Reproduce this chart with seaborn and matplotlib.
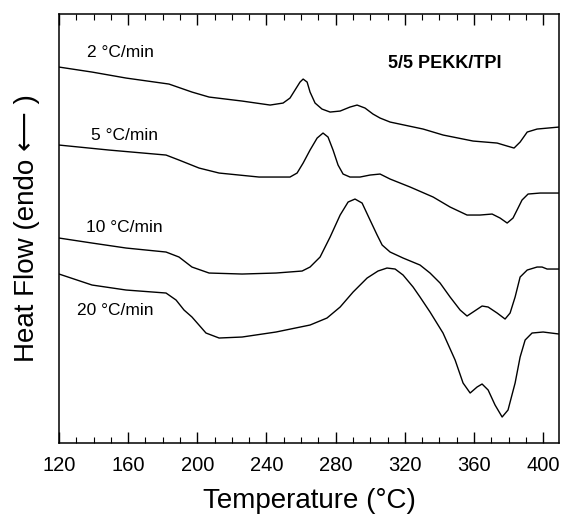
import pandas as pd
import numpy as np
import matplotlib.pyplot as plt
import seaborn as sns

# === DSC curves, 5/5 PEKK/TPI (heat flow in arbitrary units) ===
rates = ["2 °C/min", "5 °C/min", "10 °C/min", "20 °C/min"]

t_2 = [120, 139.1, 158.8, 183.6, 196.9, 206.8, 225.9, 242.1, 249.6, 253.6,
       256.5, 259.4, 261.2, 263.5, 265.2, 268.1, 272.1, 276.8, 282.6, 288.3,
       292.4, 297.0, 301.6, 305.7, 311.5, 330.6, 342.2, 359.5, 373.4, 379.2,
       383.2, 386.7, 390.8, 396.5, 409.2]
hf_2 = [3.76, 3.71, 3.65, 3.59, 3.51, 3.46, 3.42, 3.38, 3.40, 3.45,
        3.53, 3.61, 3.64, 3.61, 3.51, 3.40, 3.34, 3.31, 3.32, 3.36,
        3.38, 3.35, 3.29, 3.25, 3.21, 3.14, 3.08, 3.02, 3.00, 2.97,
        2.95, 3.01, 3.11, 3.14, 3.16]

t_5 = [120, 148.9, 181.9, 189.4, 201.0, 212.6, 235.7, 253.6, 257.7, 261.2,
       265.2, 269.3, 272.7, 275.6, 278.5, 281.4, 284.3, 288.3, 294.1, 299.9,
       305.7, 311.5, 323.1, 336.4, 346.2, 356.0, 363.5, 370.5, 375.1, 379.2,
       382.6, 385.5, 387.8, 391.3, 398.3, 409.2]
hf_5 = [2.98, 2.93, 2.88, 2.83, 2.75, 2.70, 2.66, 2.66, 2.70, 2.80,
        2.93, 3.05, 3.10, 3.06, 2.93, 2.78, 2.69, 2.66, 2.66, 2.68,
        2.69, 2.64, 2.56, 2.46, 2.36, 2.28, 2.28, 2.29, 2.25, 2.20,
        2.25, 2.35, 2.43, 2.49, 2.50, 2.50]

t_10 = [120, 139.1, 158.8, 181.9, 189.4, 196.9, 206.8, 225.9, 245.5, 260.6,
        265.2, 271.0, 276.8, 282.6, 287.2, 291.2, 295.3, 299.9, 304.0, 306.9,
        311.5, 319.0, 328.8, 334.6, 340.4, 346.2, 352.0, 356.0, 359.5, 364.7,
        368.2, 373.4, 378.0, 380.9, 383.8, 386.7, 390.8, 396.5, 399.4, 402.3,
        409.2]
hf_10 = [2.05, 2.00, 1.95, 1.91, 1.86, 1.76, 1.70, 1.69, 1.70, 1.72,
         1.76, 1.86, 2.06, 2.28, 2.41, 2.44, 2.40, 2.23, 2.08, 1.98,
         1.91, 1.85, 1.78, 1.70, 1.60, 1.46, 1.33, 1.27, 1.31, 1.37,
         1.36, 1.30, 1.24, 1.30, 1.46, 1.66, 1.73, 1.76, 1.76, 1.74,
         1.74]

t_20 = [120, 139.1, 158.8, 181.9, 187.7, 192.3, 196.9, 205.0, 212.6, 225.9, 245.5,
        265.2, 275.0, 282.6, 290.1, 298.2, 304.5, 309.7, 314.4, 319.0, 324.8,
        328.8, 334.6, 342.1, 349.1, 353.7, 357.8, 361.8, 364.7, 368.2, 372.2,
        376.3, 379.7, 383.8, 386.7, 389.6, 393.6, 400.0, 409.2]
hf_20 = [1.69, 1.58, 1.53, 1.50, 1.43, 1.33, 1.26, 1.10, 1.05, 1.06, 1.11,
         1.18, 1.25, 1.36, 1.51, 1.65, 1.72, 1.75, 1.74, 1.68, 1.56,
         1.46, 1.31, 1.10, 0.83, 0.60, 0.50, 0.56, 0.59, 0.53, 0.38,
         0.26, 0.33, 0.60, 0.86, 1.03, 1.10, 1.11, 1.09]

temps = [t_2, t_5, t_10, t_20]
flows = [hf_2, hf_5, hf_10, hf_20]

df = pd.concat([pd.DataFrame({"T": t, "hf": h, "rate": r})
                for t, h, r in zip(temps, flows, rates)], ignore_index=True)

sns.set_style("ticks")
plt.rcParams['font.family'] = ['Liberation Sans', 'DejaVu Sans']
plt.rcParams['text.color'] = 'black'
plt.rcParams['axes.labelcolor'] = 'black'
plt.rcParams['xtick.color'] = 'black'

fig = plt.figure(figsize=(5.62, 5.21), dpi=100)
ax = fig.add_axes([0.105, 0.1497, 0.8897, 0.8233])

sns.lineplot(data=df, x="T", y="hf", hue="rate", palette=["black"] * 4,
             sort=False, estimator=None, legend=False, linewidth=1.0, ax=ax)
for ln in ax.lines:
    ln.set_solid_joinstyle("round")

# Beschriftung der Kurven
ax.text(136.2, 3.91, "2 °C/min", fontsize=12.5, va="center")
ax.text(138.5, 3.08, "5 °C/min", fontsize=12.5, va="center")
ax.text(135.6, 2.16, "10 °C/min", fontsize=12.5, va="center")
ax.text(130.4, 1.33, "20 °C/min", fontsize=12.5, va="center")
ax.text(310.3, 3.80, "5/5 PEKK/TPI", fontsize=13, fontweight="bold", va="center")

ax.set_xlim(120, 409.2)
ax.set_ylim(0, 4.29)
ax.set_xticks(np.arange(120, 401, 40))
ax.set_xticks(np.arange(120, 410, 10), minor=True)
ax.set_yticks([])
ax.tick_params(axis="x", which="both", direction="in", top=True, bottom=True)
ax.tick_params(axis="x", which="major", length=8, width=1, labelsize=14.5, pad=9)
ax.tick_params(axis="x", which="minor", length=4, width=0.8)
for sp in ax.spines.values():
    sp.set_visible(True)
    sp.set_linewidth(1.1)
    sp.set_color("black")

ax.set_xlabel("Temperature (°C)", fontsize=20, labelpad=10)
ax.set_ylabel("Heat Flow (endo ⟵ )", fontsize=20, labelpad=14)

fig.savefig("out.png", dpi=100)
